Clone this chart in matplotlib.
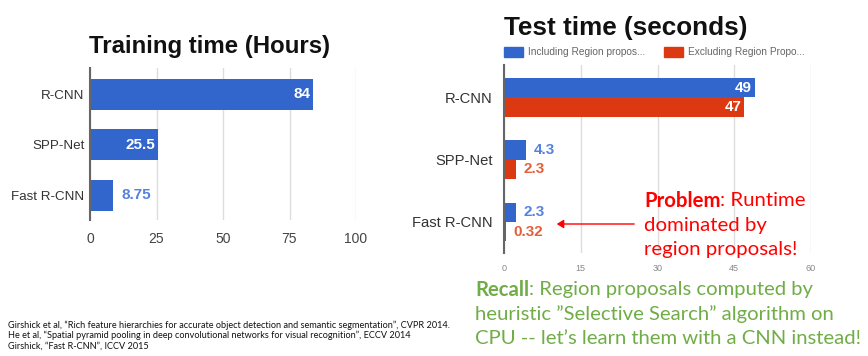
import matplotlib
matplotlib.use("Agg")
import matplotlib.pyplot as plt
import numpy as np

# ---- data ----
train_models = ["R-CNN", "SPP-Net", "Fast R-CNN"]
train_hours = [84, 25.5, 8.75]
train_labels = ["84", "25.5", "8.75"]

test_models = ["R-CNN", "SPP-Net", "Fast R-CNN"]
test_incl = [49, 4.3, 2.3]
test_excl = [47, 2.3, 0.32]
incl_labels = ["49", "4.3", "2.3"]
excl_labels = ["47", "2.3", "0.32"]
legend_names = ["Including Region propos...", "Excluding Region Propo..."]

references = [
    "Girshick et al, \u201cRich feature hierarchies for accurate object detection and semantic segmentation\u201d, CVPR 2014.",
    "He et al, \u201cSpatial pyramid pooling in deep convolutional networks for visual recognition\u201d, ECCV 2014",
    "Girshick, \u201cFast R-CNN\u201d, ICCV 2015",
]

W, H = 868, 356
BLUE = "#3366cc"
RED = "#dc3912"
BLUE_TXT = "#5582da"
RED_TXT = "#e2603b"
GREEN = "#70ad47"
SANS = "Liberation Sans"
SLIDE = "Lato"

plt.rcParams["font.family"] = [SANS, "DejaVu Sans"]
fig = plt.figure(figsize=(W / 100, H / 100), dpi=100)


def rect(left, top, right, bottom):
    return [left / W, 1 - bottom / H, (right - left) / W, (bottom - top) / H]


def px(x, y):
    return x / W, 1 - y / H


def style_axes(ax, xmax, ticks, tick_size, tick_color):
    ax.set_xlim(0, xmax)
    ax.set_xticks(ticks)
    ax.xaxis.grid(True, color="#dddddd", linewidth=1)
    ax.set_axisbelow(True)
    for side in ["top", "right", "bottom"]:
        ax.spines[side].set_visible(False)
    ax.spines["left"].set_color("#666666")
    ax.spines["left"].set_linewidth(1.5)
    ax.tick_params(axis="both", length=0)
    ax.tick_params(axis="x", labelsize=tick_size, labelcolor=tick_color)


# ---- training time ----
ax1 = fig.add_axes(rect(90, 68, 356, 220))
y1 = np.arange(len(train_models))
ax1.barh(y1, train_hours, height=0.61, color=BLUE, zorder=2)
style_axes(ax1, 100, [0, 25, 50, 75, 100], 10, "#444444")
ax1.set_ylim(2.49, -0.52)
ax1.set_yticks(y1)
ax1.set_yticklabels(train_models, fontsize=9.6, color="#333333")
ax1.tick_params(axis="y", pad=4)
ax1.tick_params(axis="x", pad=9)
for yi, v, lab in zip(y1, train_hours, train_labels):
    if v > 20:
        ax1.annotate(lab, (v, yi), xytext=(-3, 0), textcoords="offset pixels",
                     ha="right", va="center", color="white", fontsize=11, fontweight="bold")
    else:
        ax1.annotate(lab, (v, yi), xytext=(8, 0), textcoords="offset pixels",
                     ha="left", va="center", color=BLUE_TXT, fontsize=11, fontweight="bold")
fig.text(*px(210, 47), "Training time (Hours)", ha="center", va="center",
         fontsize=17.3, fontweight="bold", color="#111111")

# ---- test time ----
ax2 = fig.add_axes(rect(504, 65, 811, 253))
y2 = np.arange(len(test_models))
bh = 0.31
ax2.barh(y2 - bh / 2, test_incl, height=bh, color=BLUE, zorder=2)
ax2.barh(y2 + bh / 2, test_excl, height=bh, color=RED, zorder=2)
style_axes(ax2, 60, [0, 15, 30, 45, 60], 6.5, "#888888")
ax2.set_ylim(2.5, -0.52)
ax2.set_yticks(y2)
ax2.set_yticklabels(test_models, fontsize=10.6, color="#333333")
ax2.tick_params(axis="y", pad=8)
ax2.tick_params(axis="x", pad=8)
for vals, labs, off, col in [(test_incl, incl_labels, -bh / 2, BLUE_TXT),
                             (test_excl, excl_labels, bh / 2, RED_TXT)]:
    for yi, v, lab in zip(y2, vals, labs):
        if v > 20:
            ax2.annotate(lab, (v, yi + off), xytext=(-3, 0), textcoords="offset pixels",
                         ha="right", va="center", color="white", fontsize=11, fontweight="bold")
        else:
            ax2.annotate(lab, (v, yi + off), xytext=(8, 0), textcoords="offset pixels",
                         ha="left", va="center", color=col, fontsize=11, fontweight="bold")
fig.text(*px(504, 28), "Test time (seconds)", ha="left", va="center",
         fontsize=18.8, fontweight="bold", color="#111111")

# legend
for x0, col, name in [(504, BLUE, legend_names[0]), (664, RED, legend_names[1])]:
    fig.patches.append(plt.Rectangle(px(x0, 57), 19 / W, 10 / H, color=col,
                                     transform=fig.transFigure, figure=fig))
    fig.text(*px(x0 + 24, 52), name, ha="left", va="center", fontsize=7.3, color="#666666")

# ---- annotations ----
renderer = fig.canvas.get_renderer()


def mixed_line(x, y, bold, rest, color, size):
    t = fig.text(*px(x, y), bold, ha="left", va="center", fontsize=size,
                 fontweight="bold", color=color, family=[SLIDE, "DejaVu Sans"])
    bb = t.get_window_extent(renderer)
    fig.text(bb.x1 / W, 1 - y / H, rest, ha="left", va="center", fontsize=size,
             color=color, family=[SLIDE, "DejaVu Sans"])


mixed_line(644, 201, "Problem", ": Runtime", "#ff0000", 14.7)
fig.text(*px(644, 225), "dominated by", ha="left", va="center", fontsize=14.7,
         color="#ff0000", family=[SLIDE, "DejaVu Sans"])
fig.text(*px(644, 250), "region proposals!", ha="left", va="center", fontsize=14.7,
         color="#ff0000", family=[SLIDE, "DejaVu Sans"])
fig.add_artist(matplotlib.patches.FancyArrowPatch(
    px(637, 224), px(554, 224), transform=fig.transFigure,
    arrowstyle="-|>,head_length=4,head_width=2.5", color="#ff0000", linewidth=1))

mixed_line(475, 290, "Recall", ": Region proposals computed by", GREEN, 14.6)
fig.text(*px(475, 314), "heuristic \u201dSelective Search\u201d algorithm on", ha="left",
         va="center", fontsize=14.6, color=GREEN, family=[SLIDE, "DejaVu Sans"])
fig.text(*px(475, 338), "CPU -- let\u2019s learn them with a CNN instead!", ha="left",
         va="center", fontsize=14.6, color=GREEN, family=[SLIDE, "DejaVu Sans"])

for i, ref in enumerate(references):
    fig.text(*px(8, 325 + i * 10.5), ref, ha="left", va="center", fontsize=6.6,
             color="#111111", family=[SLIDE, "DejaVu Sans"])

fig.savefig("out.png", dpi=100)
